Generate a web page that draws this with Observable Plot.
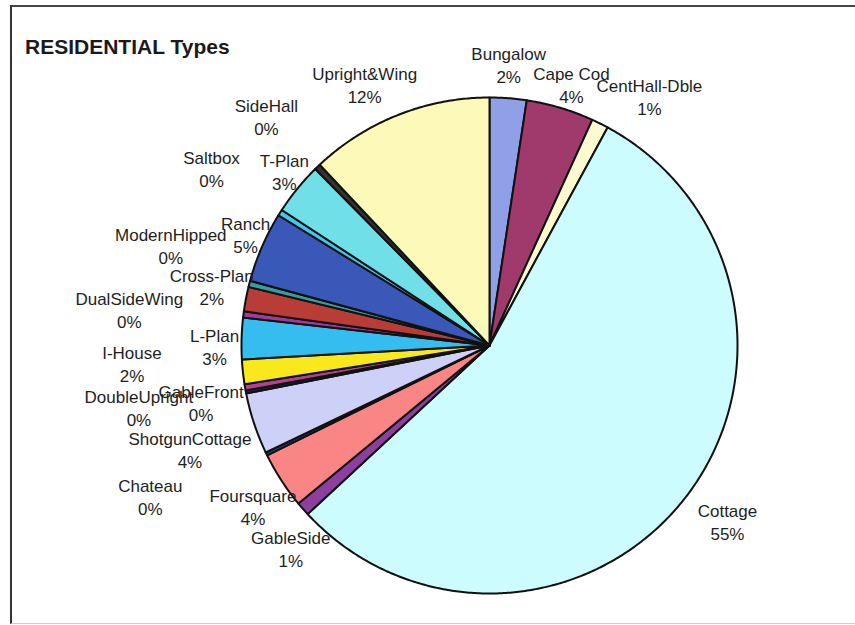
<!DOCTYPE html>
<html><head><meta charset="utf-8">
<script src="https://cdn.jsdelivr.net/npm/d3@7"></script>
<script src="https://cdn.jsdelivr.net/npm/@observablehq/plot@0.6"></script>
<style>
body{margin:0;background:#fff;}
#wrap{position:relative;width:855px;height:625px;overflow:hidden;font-family:"Liberation Sans",Arial,sans-serif;}
#frame{position:absolute;left:10px;top:5px;width:860px;height:616px;border-left:2px solid #333;border-top:2px solid #444;border-bottom:1px solid #ccc;}
#title{position:absolute;left:25px;top:35px;font-weight:bold;font-size:21px;color:#1a1a1a;white-space:nowrap;}
#chart{position:absolute;left:0;top:0;}
</style></head><body>
<div id="wrap"><div id="frame"></div><div id="chart"></div><div id="title">RESIDENTIAL Types</div></div>
<script>
// ---- data (clockwise from 12 o'clock) ----
const categories = ["Bungalow","Cape Cod","CentHall-Dble","Cottage","GableSide","Foursquare","Chateau","ShotgunCottage","DoubleUpright","GableFront","I-House","L-Plan","DualSideWing","Cross-Plan","ModernHipped","Ranch","Saltbox","T-Plan","SideHall","Upright&Wing"];
const shares = [2.4,4.4,1.1,55.2,0.9,3.7,0.2,4.0,0.2,0.4,1.6,2.7,0.4,1.6,0.4,4.6,0.4,3.4,0.4,12.0];
const colors = ["#8fa0e8","#a03a6c","#fdfad0","#ccfcfd","#8c3f9e","#fa8585","#1f4f8f","#cdd0f7","#1a2a60","#b4418e","#f8e81c","#35bdf0","#a13a9a","#b83d36","#3a9c9c","#3a58b8","#45c6ee","#70dfe8","#333333","#fdf9b8"];
// ---- layout for labels (polar, degrees clockwise from 12 o'clock, px) ----
const labelAngle = [3.9,17.4,32.7,126.5,224.4,235.8,246.1,250.9,260.0,258.8,267.1,269.8,275.7,282.0,287.4,294.5,302.6,310.3,315.8,334.5];
const labelRadius = [282,274,296,296,284,286,371,317,356,294,358,275,362,284,334,268,330,269,320,290];

const cx = 489, cy = 345, R = 248;
const total = d3.sum(shares);
const toXY = (deg, r) => { const a = deg * Math.PI / 180; return [cx + r * Math.sin(a), cy - r * Math.cos(a)]; };

const pts = [];
let acc = 0;
categories.forEach((name, i) => {
  const a0 = acc / total * 360, a1 = (acc + shares[i]) / total * 360;
  acc += shares[i];
  pts.push({name, color: colors[i], x: cx, y: cy});
  const n = Math.max(2, Math.ceil((a1 - a0) / 0.5));
  for (let k = 0; k <= n; k++) {
    const [x, y] = toXY(a0 + (a1 - a0) * k / n, R);
    pts.push({name, color: colors[i], x, y});
  }
  pts.push({name, color: colors[i], x: cx, y: cy});
});

const labels = categories.map((name, i) => {
  const [x, y] = toXY(labelAngle[i], labelRadius[i]);
  return {x, y, text: name + "\n" + Math.round(shares[i]) + "%"};
});

const chart = Plot.plot({
  width: 855, height: 625, margin: 0,
  x: {domain: [0, 855], range: [0, 855], axis: null},
  y: {domain: [0, 625], range: [0, 625], axis: null},
  color: {type: "identity"},
  style: {background: "transparent", fontFamily: "'Liberation Sans', Arial, sans-serif"},
  marks: [
    Plot.line(pts, {x: "x", y: "y", z: "name", fill: "color", stroke: "#111", strokeWidth: 2, strokeLinejoin: "round"}),
    Plot.text(labels, {x: "x", y: "y", text: "text", fontSize: 17, lineHeight: 1.35, fill: "#1e1e1e"})
  ]
});
document.getElementById("chart").appendChild(chart);
</script>
</body></html>
